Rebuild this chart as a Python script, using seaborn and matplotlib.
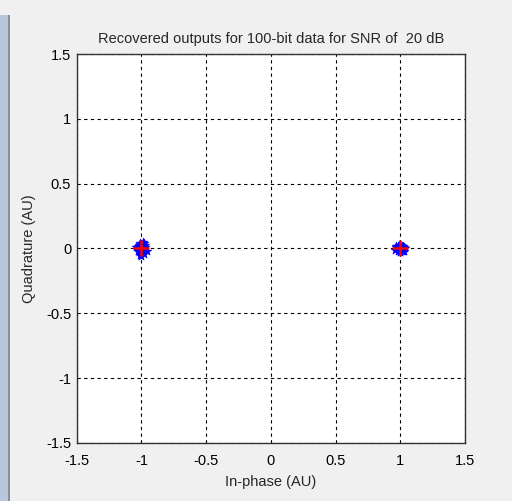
import numpy as np
import pandas as pd
import seaborn as sns
import matplotlib.pyplot as plt
from matplotlib.patches import Rectangle

# received symbols, BPSK clusters at -1 and +1
rx_i_neg = [-1.03, -1.01, -0.99, -0.97, -1.02, -1.00, -0.98, -1.04, -1.01, -0.99,
            -0.96, -1.02, -1.00, -0.98, -1.03, -0.97, -1.01, -0.99, -1.00, -1.02,
            -0.98, -1.00, -1.01, -0.99, -1.03]
rx_q_neg = [0.02, 0.04, 0.03, 0.01, -0.01, -0.03, 0.00, 0.01, -0.05, 0.05,
            -0.02, 0.03, -0.06, -0.04, -0.02, 0.03, 0.01, -0.01, 0.02, -0.03,
            0.04, 0.00, -0.02, 0.02, 0.00]
rx_i_pos = [1.03, 1.01, 0.99, 0.97, 1.02, 1.00, 0.98, 1.04, 1.01, 0.99,
            0.96, 1.02, 1.00, 0.98, 1.03, 0.97, 1.01, 0.99, 1.00, 1.02,
            0.98, 1.00, 1.01, 0.99, 1.03]
rx_q_pos = [0.01, 0.02, 0.03, 0.01, -0.01, -0.02, 0.00, 0.00, -0.02, 0.02,
            -0.01, 0.02, -0.03, -0.02, -0.02, 0.02, 0.01, -0.01, 0.02, -0.02,
            0.02, 0.00, -0.01, 0.01, 0.00]
ideal_i = [-1, 1]
ideal_q = [0, 0]

ticks = [-1.5, -1, -0.5, 0, 0.5, 1, 1.5]
tick_labels = ["-1.5", "-1", "-0.5", "0", "0.5", "1", "1.5"]

df = pd.DataFrame({"I": rx_i_neg + rx_i_pos, "Q": rx_q_neg + rx_q_pos})
ref = pd.DataFrame({"I": ideal_i, "Q": ideal_q})

sns.set_style("white")
plt.rcParams["font.family"] = ["Liberation Sans", "DejaVu Sans"]

fig = plt.figure(figsize=(5.12, 5.01), dpi=100, facecolor="#f0f0f0")
# window edge strip on the left
fig.patches.append(Rectangle((0.0, 0.0), 0.016, 0.97, transform=fig.transFigure,
                             facecolor="#b8c8dc", edgecolor="none"))
fig.patches.append(Rectangle((0.016, 0.0), 0.004, 0.97, transform=fig.transFigure,
                             facecolor="#8a8f96", edgecolor="none"))
ax = fig.add_axes([0.150, 0.116, 0.758, 0.776])

sns.scatterplot(data=df, x="I", y="Q", ax=ax, color="blue", marker="*",
                s=40, edgecolor="blue", linewidth=0.5, zorder=3)
sns.scatterplot(data=ref, x="I", y="Q", ax=ax, color="red", marker="+",
                s=120, linewidth=1.8, zorder=4)

ax.set_xlim(-1.5, 1.5)
ax.set_ylim(-1.5, 1.5)
ax.set_xticks(ticks)
ax.set_xticklabels(tick_labels)
ax.set_yticks(ticks)
ax.set_yticklabels(tick_labels)
ax.grid(True, color="black", linestyle=(0, (3, 3)), linewidth=0.8)
ax.set_axisbelow(True)
for sp in ax.spines.values():
    sp.set_color("#333333")
    sp.set_linewidth(1)
ax.tick_params(labelsize=10.5, colors="black", length=0)
ax.tick_params(axis="x", pad=8)
ax.tick_params(axis="y", pad=4)
ax.set_xlabel("In-phase (AU)", fontsize=10.5, labelpad=5)
ax.set_ylabel("Quadrature (AU)", fontsize=10.5, labelpad=7)
ax.set_title("Recovered outputs for 100-bit data for SNR of  20 dB", fontsize=10.5, pad=8)

fig.savefig("out.png", dpi=100, facecolor=fig.get_facecolor())
